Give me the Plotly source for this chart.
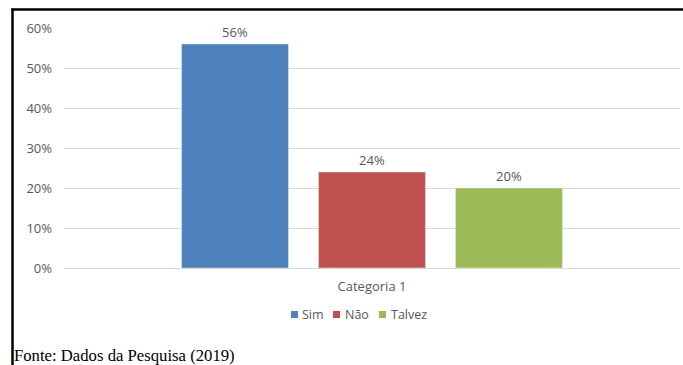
import plotly.graph_objects as go

categories = ["Categoria 1"]
series_names = ["Sim", "Não", "Talvez"]
series_values = [[0.56], [0.24], [0.20]]
colors = ["#4f81bd", "#c0504d", "#9bbb59"]
source_text = "Fonte: Dados da Pesquisa (2019)"

W, H = 683, 365
L, R, T, B = 64, 3, 28, 97
pw, ph = W - L - R, H - T - B

def px(x):
    return (x - L) / pw

def py(y):
    return (H - B - y) / ph

fig = go.Figure()
for name, vals, c in zip(series_names, series_values, colors):
    fig.add_trace(go.Bar(
        x=categories, y=vals, name=name, marker_color=c,
        texttemplate="%{y:.0%}", textposition="outside",
        textfont=dict(color="#595959", size=13),
        cliponaxis=False, showlegend=False,
    ))

# legend drawn as small squares + text (Excel-like compact legend)
legend_square_x = [291, 333, 379]
legend_text_x = [300, 343, 389]
shapes = [
    dict(type="line", xref="paper", yref="paper", x0=px(12.5), x1=px(12.5), y0=py(8.5), y1=py(366),
         line=dict(color="black", width=2.5)),
    dict(type="line", xref="paper", yref="paper", x0=px(11.5), x1=px(684), y0=py(9.5), y1=py(9.5),
         line=dict(color="black", width=2.5)),
]
annotations = [
    dict(text=source_text, xref="paper", yref="paper", x=px(12), y=py(355),
         xanchor="left", yanchor="middle", showarrow=False,
         font=dict(family="Liberation Serif, Times New Roman, serif", size=16.7, color="black")),
]
for name, c, sx, tx in zip(series_names, colors, legend_square_x, legend_text_x):
    shapes.append(dict(type="rect", xref="paper", yref="paper", x0=px(sx), x1=px(sx + 7),
                       y0=py(318), y1=py(311), fillcolor=c, line=dict(width=0)))
    annotations.append(dict(text=name, xref="paper", yref="paper", x=px(tx), y=py(314.5),
                            xanchor="left", yanchor="middle", showarrow=False,
                            font=dict(size=12.5, color="#595959")))

fig.update_layout(
    width=W, height=H,
    margin=dict(l=L, r=R, t=T, b=B),
    plot_bgcolor="white", paper_bgcolor="white",
    font=dict(family="Open Sans, Liberation Sans, sans-serif", size=13, color="#595959"),
    barmode="group", bargap=0.333, bargroupgap=0.219,
    showlegend=False,
    xaxis=dict(showgrid=False, showline=False, ticks="", ticklabelstandoff=9,
               tickfont=dict(size=13, color="#595959")),
    yaxis=dict(range=[0, 0.6], dtick=0.1, tickformat=".0%", showgrid=True, gridcolor="#d9d9d9",
               gridwidth=1, zeroline=True, zerolinecolor="#d9d9d9", zerolinewidth=1, showline=False,
               ticks="", ticklabelstandoff=11, tickfont=dict(size=13, color="#595959")),
    shapes=shapes,
    annotations=annotations,
)

fig.write_html("out.html")
